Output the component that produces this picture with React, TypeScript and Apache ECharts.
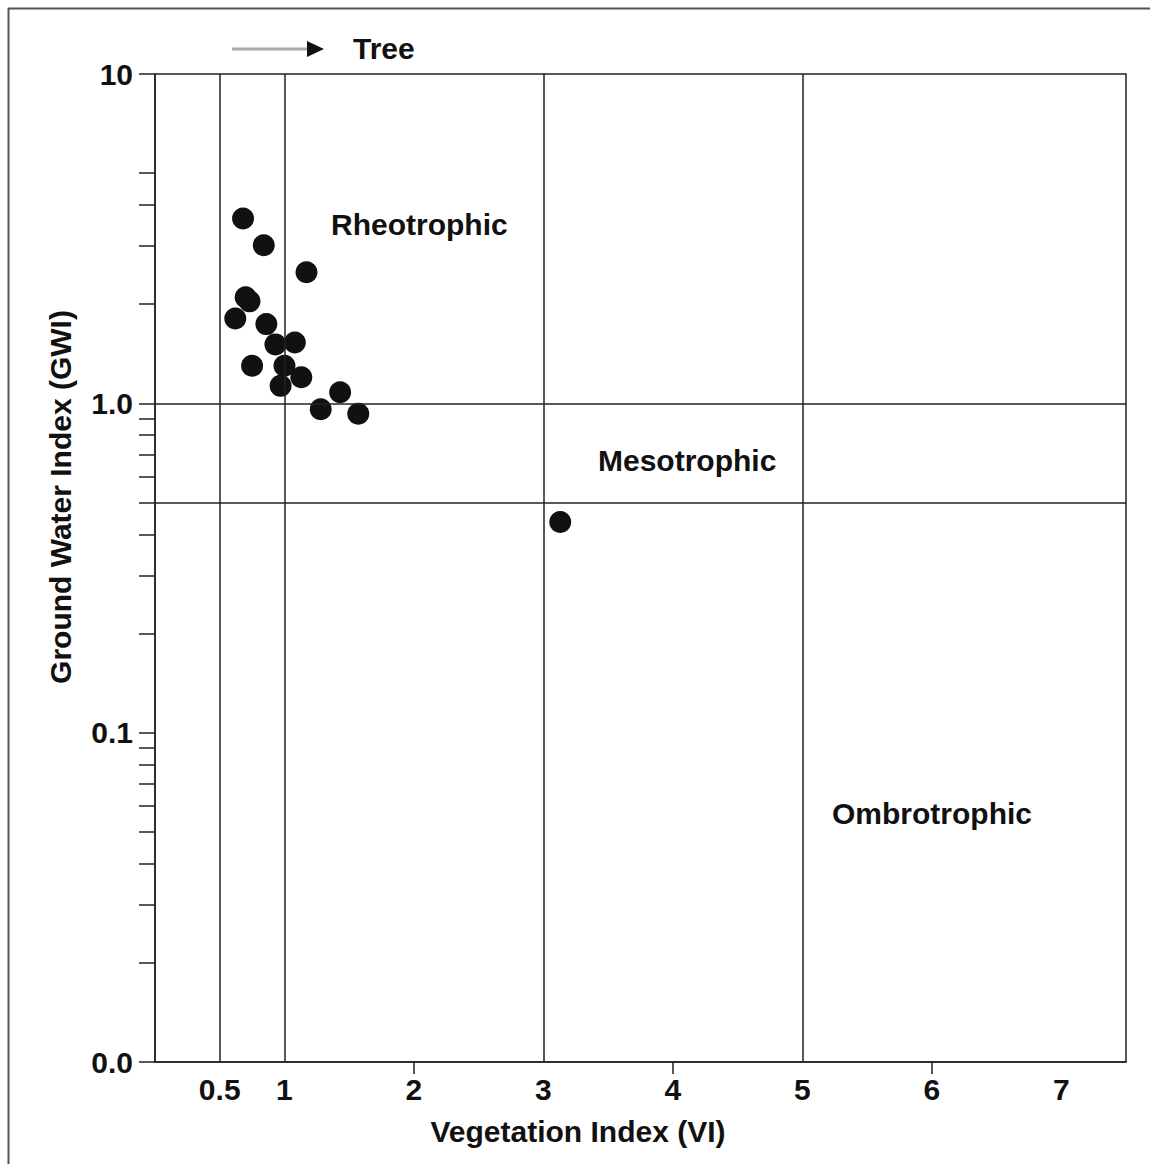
import { useEffect, useRef } from "react";
import * as echarts from "echarts";

// Scatter points: Vegetation Index (VI) vs Ground Water Index (GWI)
const vegetationIndex = [0.68, 0.84, 1.17, 0.7, 0.73, 0.62, 0.86, 0.93, 1.08, 0.75, 1.0, 1.13, 0.97, 1.43, 1.28, 1.57, 3.13];
const groundWaterIndex = [3.64, 3.02, 2.5, 2.1, 2.04, 1.81, 1.74, 1.51, 1.53, 1.3, 1.3, 1.2, 1.13, 1.08, 0.96, 0.93, 0.436];

const xTickLabels = [0.5, 1, 2, 3, 4, 5, 6, 7];
const xOuterTicks = [2, 4, 6];
const yMajorTicks = [0.01, 0.1, 1, 10];
const yMinorTicks = [
  0.02, 0.03, 0.04, 0.05, 0.06, 0.07, 0.08, 0.09,
  0.2, 0.3, 0.4, 0.5, 0.6, 0.7, 0.8, 0.9,
  2, 3, 4, 5,
];
const vBoundaries = [0.5, 1, 3, 5];
const hBoundaries = [1, 0.5];
const zoneLabels = ["Rheotrophic", "Mesotrophic", "Ombrotrophic"];
const legendLabel = "Tree";

const FONT = "'Liberation Sans', Arial, Helvetica, sans-serif";
const INK = "#111111";
const LINE = "#222";

export default function App() {
  const ref = useRef<HTMLDivElement>(null);

  useEffect(() => {
    if (!ref.current) return;
    const chart = echarts.init(ref.current, undefined, { renderer: "svg" });

    const data = vegetationIndex.map((x, i) => [x, groundWaterIndex[i]]);
    const bold = { fontSize: 30, fontWeight: "bold" as const, color: INK, fontFamily: FONT };

    const zonePos = [
      [331, 224],
      [598, 460],
      [832, 813],
    ];

    chart.setOption({
      animation: false,
      backgroundColor: "#ffffff",
      textStyle: { fontFamily: FONT },
      grid: {
        left: 155,
        top: 74,
        width: 971,
        height: 988,
        show: true,
        borderColor: LINE,
        borderWidth: 1.5,
        backgroundColor: "transparent",
      },
      xAxis: {
        type: "value",
        min: 0,
        max: 7.5,
        axisLine: { show: true, lineStyle: { color: LINE, width: 1.5 } },
        axisTick: {
          show: true,
          inside: false,
          length: 12,
          customValues: xOuterTicks,
          lineStyle: { color: LINE, width: 1.5 },
        },
        axisLabel: {
          customValues: xTickLabels,
          margin: 12,
          ...bold,
          formatter: (v: number) => String(v),
        },
        splitLine: { show: false },
        name: "Vegetation Index (VI)",
        nameLocation: "middle",
        nameGap: 54,
        nameTextStyle: { ...bold, padding: [0, 125, 0, 0] },
      },
      yAxis: {
        type: "log",
        logBase: 10,
        min: 0.01,
        max: 10,
        axisLine: { show: true, lineStyle: { color: LINE, width: 1.5 } },
        axisTick: {
          show: true,
          inside: false,
          length: 16,
          customValues: [...yMajorTicks, ...yMinorTicks],
          lineStyle: { color: LINE, width: 1.5 },
        },
        axisLabel: {
          margin: 22,
          ...bold,
          formatter: (v: number) => (v >= 5 ? "10" : v >= 0.5 ? "1.0" : v >= 0.05 ? "0.1" : "0.0"),
        },
        splitLine: { show: false },
        minorTick: { show: false },
        name: "Ground Water Index (GWI)",
        nameLocation: "middle",
        nameGap: 80,
        nameTextStyle: { ...bold, padding: [0, 0, 0, 142] },
      },
      series: [
        {
          type: "scatter",
          name: legendLabel,
          data,
          symbol: "circle",
          symbolSize: 22,
          itemStyle: { color: INK, opacity: 1 },
          z: 3,
          markLine: {
            silent: true,
            symbol: ["none", "none"],
            label: { show: false },
            lineStyle: { color: LINE, width: 1.5, type: "solid" },
            data: [
              ...vBoundaries.map((v) => ({ xAxis: v })),
              ...hBoundaries.map((v) => ({ yAxis: v })),
            ],
          },
        },
      ],
      graphic: [
        { type: "line", shape: { x1: 8.5, y1: 8, x2: 8.5, y2: 1164 }, style: { stroke: "#555", lineWidth: 2 } },
        { type: "line", shape: { x1: 8, y1: 8.5, x2: 1150, y2: 8.5 }, style: { stroke: "#555", lineWidth: 2 } },
        { type: "line", shape: { x1: 232, y1: 49, x2: 309, y2: 49 }, style: { stroke: "#aaa", lineWidth: 3 } },
        {
          type: "polygon",
          shape: { points: [[307, 41], [324, 49], [307, 57]] },
          style: { fill: "#111" },
        },
        {
          type: "text",
          x: 353,
          y: 48,
          style: {
            text: legendLabel,
            fontSize: 30,
            fontWeight: "bold",
            fontFamily: FONT,
            fill: INK,
            textVerticalAlign: "middle",
            textAlign: "left",
          },
        },
        ...zoneLabels.map((t, i) => ({
          type: "text",
          x: zonePos[i][0],
          y: zonePos[i][1],
          style: {
            text: t,
            fontSize: 30,
            fontWeight: "bold",
            fontFamily: FONT,
            fill: INK,
            textVerticalAlign: "middle",
            textAlign: "left",
          },
        })),
      ],
    });

    return () => chart.dispose();
  }, []);

  return (
    <div
      ref={ref}
      style={{ position: "fixed", left: 0, top: 0, width: 1150, height: 1164 }}
    />
  );
}
